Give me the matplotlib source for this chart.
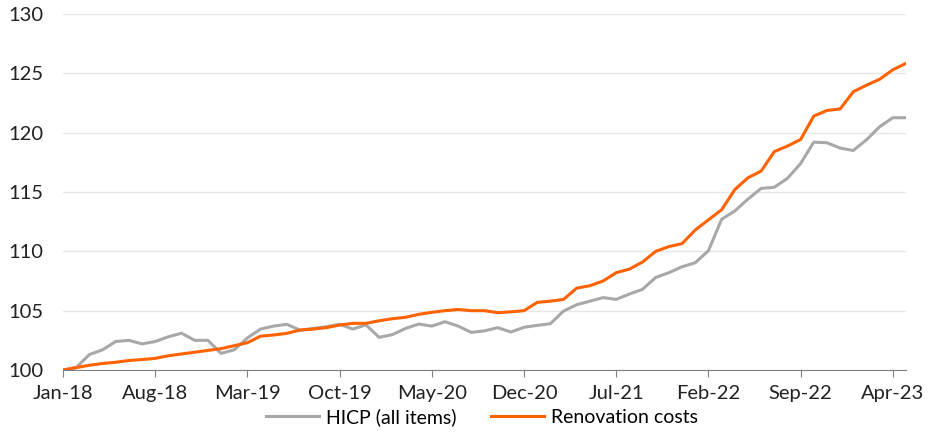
import numpy as np
import matplotlib
matplotlib.use("Agg")
import matplotlib.pyplot as plt

# Monthly index, Jan-18 = 100, Jan-18 .. May-23
hicp = [100.0, 100.2, 101.3, 101.7, 102.4, 102.5, 102.2, 102.4, 102.8, 103.1,
        102.5, 102.5, 101.4, 101.7, 102.7, 103.45, 103.7, 103.85, 103.35, 103.5,
        103.65, 103.85, 103.45, 103.8, 102.75, 102.98, 103.5, 103.87, 103.7, 104.07,
        103.7, 103.17, 103.3, 103.57, 103.2, 103.6, 103.76, 103.9, 104.97, 105.5,
        105.8, 106.1, 105.95, 106.4, 106.8, 107.8, 108.2, 108.7, 109.04, 110.05,
        112.7, 113.4, 114.4, 115.3, 115.4, 116.15, 117.4, 119.2, 119.15, 118.7,
        118.5, 119.4, 120.5, 121.26, 121.26]
renovation = [100.0, 100.2, 100.4, 100.55, 100.65, 100.8, 100.88, 100.98, 101.2, 101.35,
              101.5, 101.65, 101.8, 102.05, 102.3, 102.85, 102.95, 103.09, 103.37, 103.45,
              103.57, 103.79, 103.93, 103.93, 104.15, 104.32, 104.44, 104.69, 104.86, 105.0,
              105.1, 105.0, 105.0, 104.83, 104.9, 105.0, 105.7, 105.8, 105.95, 106.9,
              107.1, 107.5, 108.2, 108.5, 109.1, 110.0, 110.4, 110.65, 111.8, 112.65,
              113.5, 115.2, 116.2, 116.76, 118.4, 118.87, 119.43, 121.4, 121.87, 122.0,
              123.45, 124.0, 124.5, 125.3, 125.84]
tick_labels = ["Jan-18", "Aug-18", "Mar-19", "Oct-19", "May-20",
               "Dec-20", "Jul-21", "Feb-22", "Sep-22", "Apr-23"]
y_ticks = [100, 105, 110, 115, 120, 125, 130]

ORANGE = "#FF6200"
GREY = "#A8A8A8"

plt.rcParams["font.family"] = ["Lato", "DejaVu Sans"]

fig = plt.figure(figsize=(9.52, 4.38), dpi=100)
ax = fig.add_axes([63 / 952, 68 / 438, (906 - 63) / 952, (370 - 14) / 438])

months = np.arange(len(hicp))
ax.plot(months, hicp, color=GREY, lw=2.2, label="HICP (all items)", solid_joinstyle="round")
ax.plot(months, renovation, color=ORANGE, lw=2.2, label="Renovation costs", solid_joinstyle="round")

ax.set_xlim(0, len(hicp) - 1)
ax.set_ylim(100, 130)
ax.set_yticks(y_ticks)
ax.set_xticks(np.arange(0, len(hicp), 7))
ax.set_xticklabels(tick_labels)

ax.grid(axis="y", color="#E6E6E6", lw=1.0)
ax.set_axisbelow(True)
for side in ("top", "right", "left"):
    ax.spines[side].set_visible(False)
ax.spines["bottom"].set_color("#808080")
ax.tick_params(axis="y", length=0, pad=14, labelsize=14.5, labelcolor="#222222")
ax.tick_params(axis="x", length=5, color="#808080", pad=6, labelsize=14.5, labelcolor="#222222")

fig.legend(loc="center", bbox_to_anchor=(482 / 952, 1 - 417 / 438), ncol=2,
           frameon=False, fontsize=14, handlelength=2.7, columnspacing=1.8,
           handletextpad=0.35, borderaxespad=0, borderpad=0)

fig.savefig("out.png", dpi=100)
